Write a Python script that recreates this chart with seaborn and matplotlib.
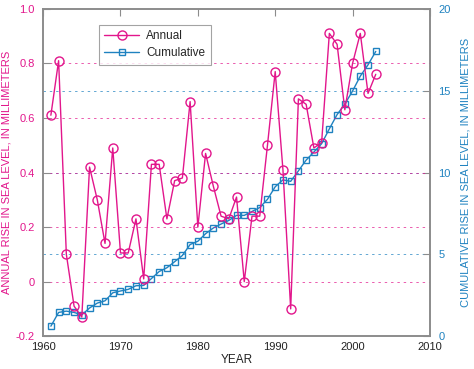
import matplotlib
matplotlib.use("Agg")
import matplotlib.pyplot as plt
import seaborn as sns
import pandas as pd

years = list(range(1961, 2004))

annual = [0.61, 0.81, 0.10, -0.09, -0.13, 0.42, 0.30, 0.14, 0.49, 0.105,
          0.105, 0.23, 0.01, 0.43, 0.43, 0.23, 0.37, 0.38, 0.66, 0.20,
          0.47, 0.35, 0.24, 0.23, 0.31, 0.00, 0.24, 0.24, 0.50, 0.77,
          0.41, -0.10, 0.67, 0.65, 0.49, 0.51, 0.91, 0.87, 0.63, 0.80,
          0.91, 0.69, 0.76]

cumulative = [0.61, 1.45, 1.53, 1.45, 1.30, 1.72, 2.02, 2.16, 2.65, 2.76,
              2.86, 3.08, 3.10, 3.52, 3.95, 4.18, 4.55, 4.93, 5.60, 5.80,
              6.26, 6.61, 6.85, 7.07, 7.38, 7.38, 7.62, 7.86, 8.36, 9.13,
              9.55, 9.46, 10.10, 10.76, 11.25, 11.76, 12.67, 13.54, 14.18, 14.98,
              15.89, 16.58, 17.40]

df = pd.DataFrame({"year": years, "annual": annual, "cumulative": cumulative})

PINK = "#e2168c"
BLUE = "#1f82c0"
GRAY = "#8c8c8c"

sns.set_style("white")
plt.rcParams["font.family"] = ["Liberation Sans Narrow", "Liberation Sans", "DejaVu Sans"]

fig = plt.figure(figsize=(4.74, 3.69), dpi=100)
ax = fig.add_axes([0.091, 0.089, 0.816, 0.887])
ax2 = ax.twinx()

# dotted grid lines, pink for left axis, blue for right axis
for v in [0, 0.2, 0.4, 0.6, 0.8]:
    ax.axhline(v, color=PINK, lw=0.7, ls=(0, (2.5, 4)), alpha=0.7, zorder=0)
for v in [5, 10, 15]:
    ax2.axhline(v, color=BLUE, lw=0.7, ls=(0, (2.5, 4)), alpha=0.7, zorder=0)

sns.lineplot(data=df, x="year", y="cumulative", ax=ax2, color=BLUE, lw=1.0,
             marker="s", markersize=4.3, markerfacecolor="none",
             markeredgecolor=BLUE, markeredgewidth=1.0, label="Cumulative", legend=False)
ax.set_zorder(ax2.get_zorder() + 1)
ax.patch.set_visible(False)
sns.lineplot(data=df, x="year", y="annual", ax=ax, color=PINK, lw=1.0,
             marker="o", markersize=6.5, markerfacecolor="none",
             markeredgecolor=PINK, markeredgewidth=1.0, label="Annual", legend=False)

ax.set_xlim(1960, 2010)
ax.set_ylim(-0.2, 1.0)
ax2.set_ylim(0, 20)
ax.set_xticks(range(1960, 2011, 10))
ax.set_yticks([-0.2, 0, 0.2, 0.4, 0.6, 0.8, 1.0])
ax.set_yticklabels(["-0.2", "0", "0.2", "0.4", "0.6", "0.8", "1.0"])
ax2.set_yticks([0, 5, 10, 15, 20])

ax.tick_params(axis="x", direction="in", top=True, length=5, color=GRAY,
               labelsize=8, labelcolor="#222222", pad=4)
ax.tick_params(axis="y", direction="in", length=5, color=GRAY,
               labelsize=8, labelcolor=PINK, left=True, pad=6)
ax2.tick_params(axis="y", direction="in", length=5, color=GRAY,
                labelsize=8, labelcolor=BLUE, right=True, pad=6)

for a in (ax, ax2):
    for s in a.spines.values():
        s.set_color(GRAY)
        s.set_linewidth(1.2)

ax.set_xlabel("YEAR", fontsize=8.5, color="#222222", labelpad=2)
ax.set_ylabel("ANNUAL RISE IN SEA LEVEL, IN MILLIMETERS", fontsize=8, color=PINK, labelpad=3)
ax2.set_ylabel("CUMULATIVE RISE IN SEA LEVEL, IN MILLIMETERS", fontsize=8, color=BLUE, labelpad=7)

h1, l1 = ax.get_legend_handles_labels()
h2, l2 = ax2.get_legend_handles_labels()
leg = ax.legend(h1 + h2, l1 + l2, loc="upper left", bbox_to_anchor=(0.128, 0.97),
                fontsize=8.5, frameon=True, fancybox=False, edgecolor=GRAY,
                handlelength=3.0, handletextpad=0.6, borderpad=0.45, labelspacing=0.45)
leg.get_frame().set_linewidth(0.8)

fig.savefig("out.png", dpi=100)
